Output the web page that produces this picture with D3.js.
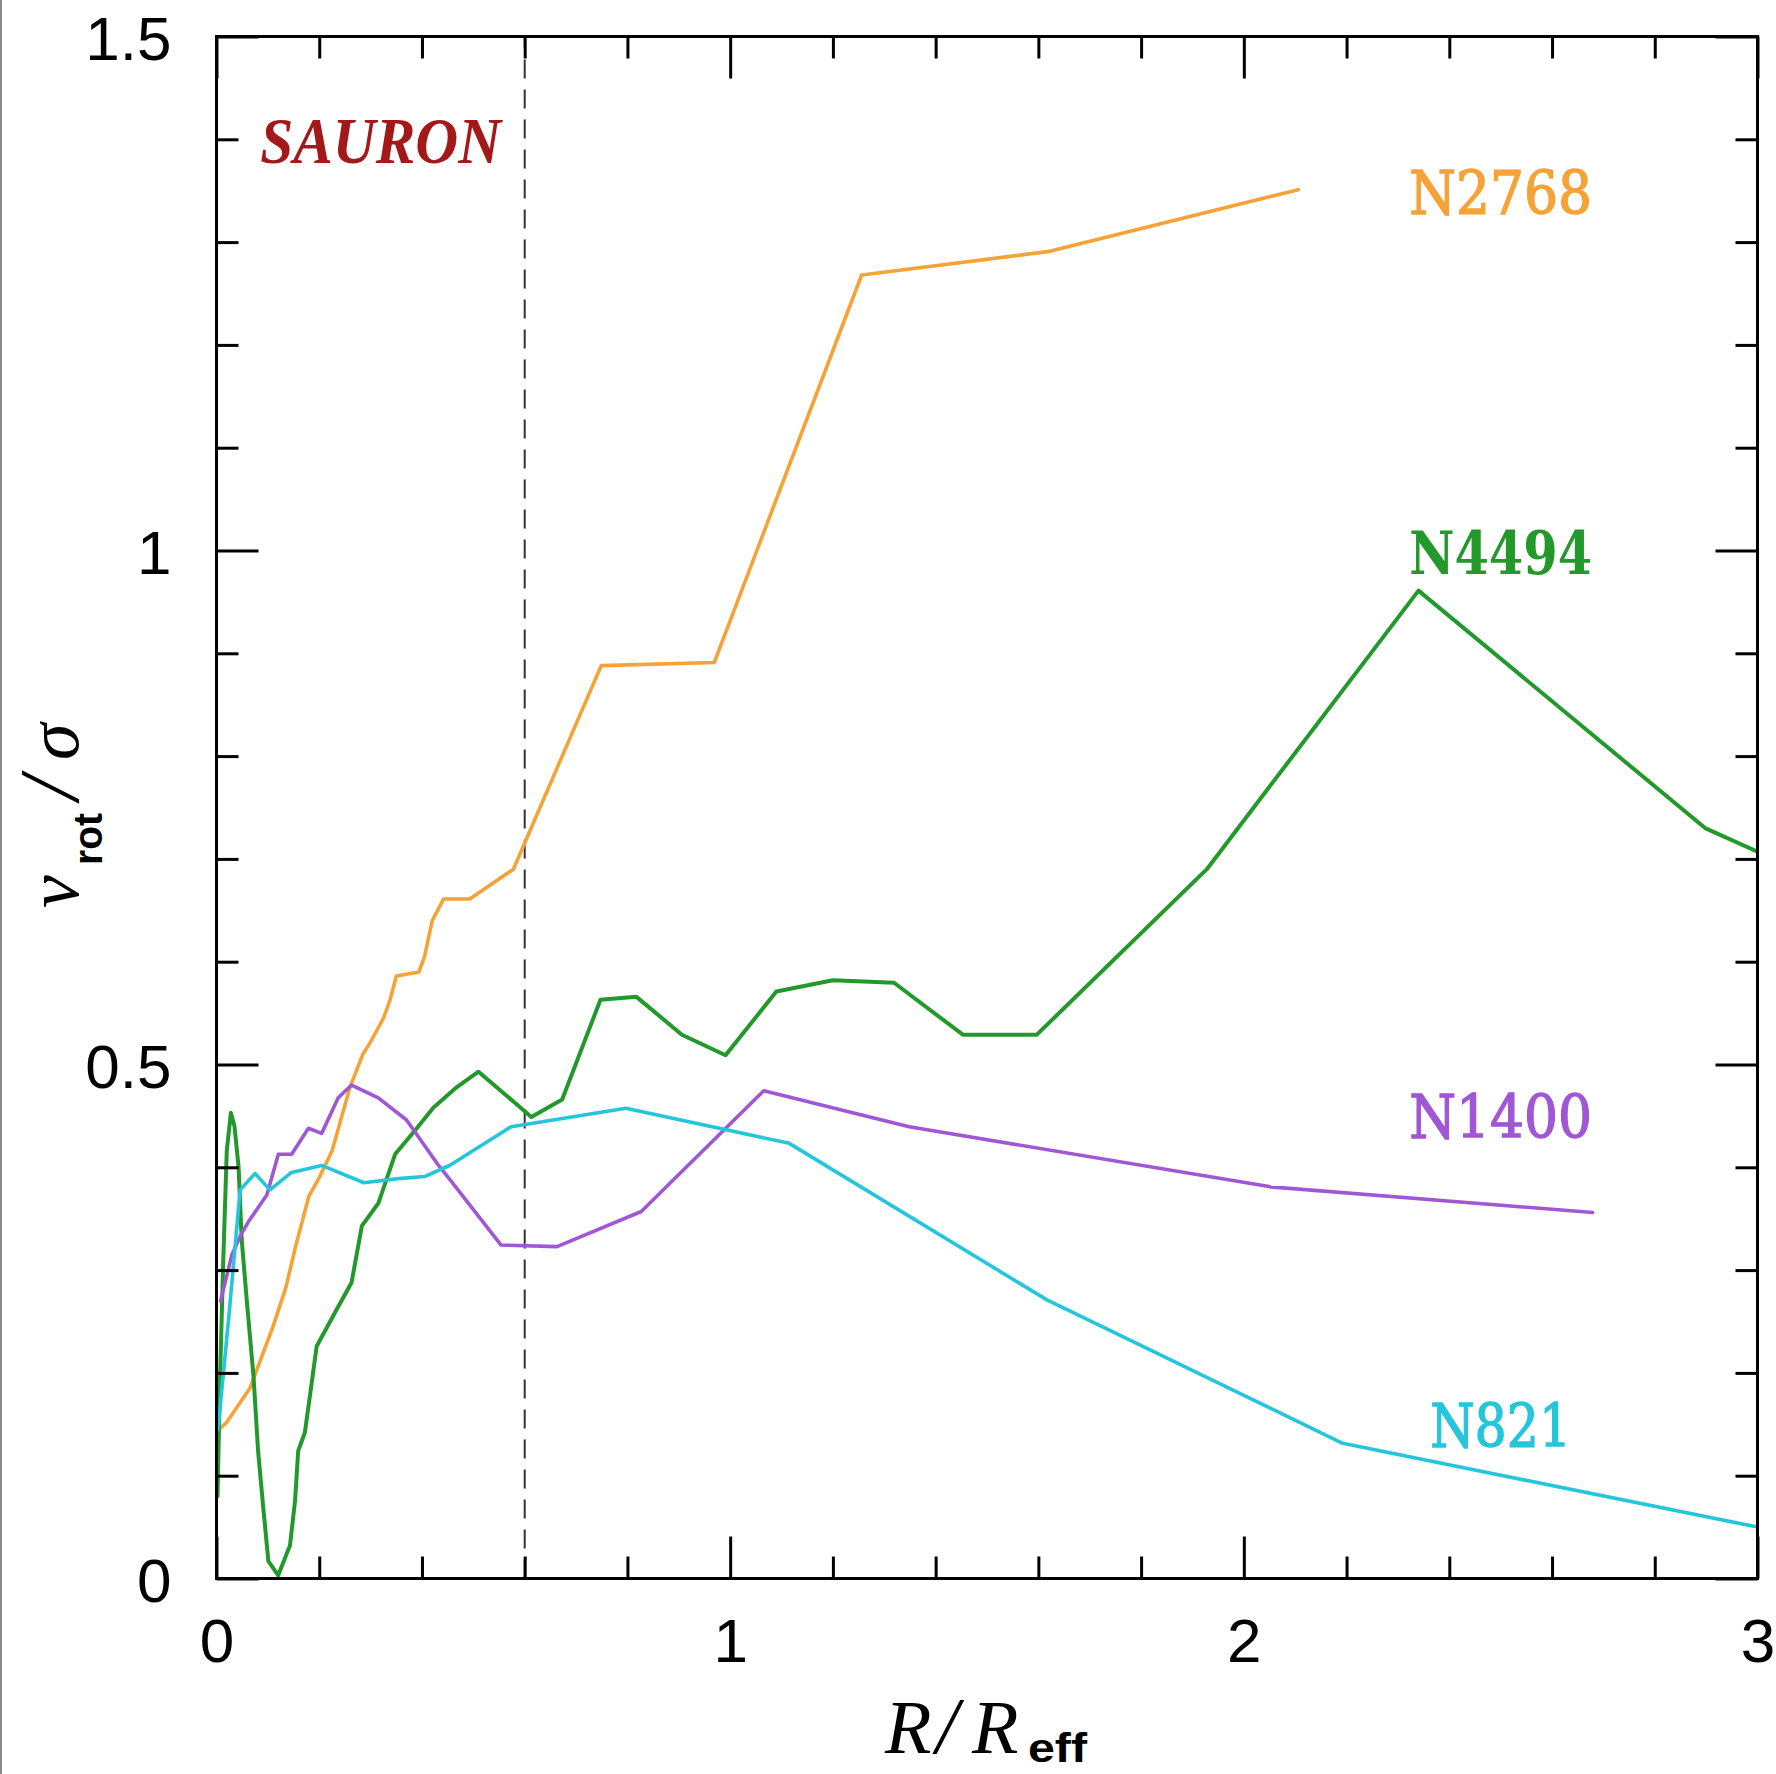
<!DOCTYPE html>
<html><head><meta charset="utf-8">
<script src="https://cdn.jsdelivr.net/npm/d3@7"></script>
<style>html,body{margin:0;padding:0;background:#fff;} svg{display:block;}</style>
</head><body>
<div id="chart"></div>
<script>
// ---- data ----
const seriesNames  = ["N2768", "N4494", "N1400", "N821"];
const seriesColors = ["#f5a236", "#23992b", "#a057d4", "#25c6dc"];

const n2768X = [0.005, 0.02, 0.065, 0.11, 0.135, 0.155, 0.18, 0.2, 0.225, 0.26, 0.285, 0.30, 0.325, 0.338, 0.35, 0.394, 0.405, 0.42, 0.442, 0.493, 0.578, 0.749, 0.969, 1.256, 1.622, 2.106];
const n2768Y = [0.145, 0.152, 0.185, 0.245, 0.283, 0.325, 0.372, 0.39, 0.416, 0.478, 0.51, 0.522, 0.545, 0.563, 0.586, 0.590, 0.605, 0.640, 0.661, 0.661, 0.690, 0.888, 0.891, 1.268, 1.291, 1.351];

const n4494X = [0.002, 0.007, 0.013, 0.02, 0.028, 0.035, 0.043, 0.049, 0.059, 0.072, 0.081, 0.091, 0.101, 0.12, 0.143, 0.153, 0.159, 0.172, 0.182, 0.195, 0.231, 0.263, 0.283, 0.315, 0.348, 0.39, 0.422, 0.468, 0.51, 0.613, 0.673, 0.7475, 0.817, 0.906, 0.991, 1.09, 1.2, 1.319, 1.453, 1.597, 1.928, 2.34, 2.898, 3.0];
const n4494Y = [0.08, 0.197, 0.307, 0.416, 0.453, 0.44, 0.40, 0.33, 0.27, 0.197, 0.124, 0.069, 0.017, 0.003, 0.032, 0.076, 0.124, 0.142, 0.178, 0.226, 0.259, 0.288, 0.343, 0.365, 0.413, 0.438, 0.458, 0.478, 0.493, 0.449, 0.466, 0.563, 0.566, 0.529, 0.509, 0.571, 0.582, 0.5795, 0.529, 0.529, 0.690, 0.961, 0.730, 0.707];

const n1400X = [0.008, 0.03, 0.046, 0.062, 0.098, 0.1204, 0.1463, 0.179, 0.2047, 0.237, 0.263, 0.315, 0.37, 0.432, 0.4545, 0.554, 0.663, 0.827, 1.0654, 1.3485, 2.052, 2.679];
const n1400Y = [0.27, 0.315, 0.333, 0.347, 0.373, 0.4127, 0.4127, 0.438, 0.433, 0.4676, 0.480, 0.4676, 0.446, 0.402, 0.388, 0.3244, 0.3228, 0.357, 0.4745, 0.4395, 0.381, 0.356];

const n821X = [0.003, 0.025, 0.046, 0.075, 0.104, 0.146, 0.2047, 0.287, 0.354, 0.405, 0.4545, 0.5737, 0.797, 1.115, 1.6167, 2.1925, 3.0];
const n821Y = [0.145, 0.26, 0.378, 0.394, 0.378, 0.395, 0.4018, 0.385, 0.389, 0.391, 0.402, 0.4395, 0.4574, 0.4233, 0.271, 0.1315, 0.050];

const xMajorTicks = [0, 1, 2, 3];
const xTickLabels = ["0", "1", "2", "3"];
const xMinorTicks = [0.2, 0.4, 0.6, 0.8, 1.2, 1.4, 1.6, 1.8, 2.2, 2.4, 2.6, 2.8];
const yMajorTicks = [0, 0.5, 1, 1.5];
const yTickLabels = ["0", "0.5", "1", "1.5"];
const yMinorTicks = [0.1, 0.2, 0.3, 0.4, 0.6, 0.7, 0.8, 0.9, 1.1, 1.2, 1.3, 1.4];

const sauronLimit = 0.6;            // dashed line position (R/Reff)
const labelXValue = 2.5;            // where the galaxy names sit
const labelYValues = [1.327, 0.977, 0.4285, 0.128];
const labelWidths = [183, 183, 183, 141];

// ---- drawing ----
const W = 1776, H = 1774;
const svg = d3.select("#chart").append("svg").attr("width", W).attr("height", H);
svg.append("rect").attr("width", W).attr("height", H).attr("fill", "#fff");
svg.append("line").attr("x1", 1).attr("x2", 1).attr("y1", 0).attr("y2", H)
   .attr("stroke", "#888").attr("stroke-width", 2);

const x = d3.scaleLinear().domain([0, 3]).range([216.5, 1757.5]);
const y = d3.scaleLinear().domain([0, 1.5]).range([1578.5, 36.5]);

svg.append("clipPath").attr("id", "plotclip").append("rect")
   .attr("x", x(0)).attr("y", y(1.5)).attr("width", x(3) - x(0)).attr("height", y(0) - y(1.5));

// dashed SAURON limit
svg.append("line").attr("x1", x(sauronLimit)).attr("x2", x(sauronLimit))
   .attr("y1", y(0)).attr("y2", y(1.5))
   .attr("stroke", "#333").attr("stroke-width", 2).attr("stroke-dasharray", "19,11");

// curves
const seriesX = [n2768X, n4494X, n1400X, n821X];
const seriesY = [n2768Y, n4494Y, n1400Y, n821Y];
const line = d3.line().x(d => x(d[0])).y(d => y(d[1]));
const plot = svg.append("g").attr("clip-path", "url(#plotclip)");
seriesNames.forEach((name, i) => {
  const pts = seriesX[i].map((v, j) => [v, seriesY[i][j]]);
  plot.append("path").datum(pts).attr("d", line)
      .attr("fill", "none").attr("stroke", seriesColors[i])
      .attr("stroke-width", name === "N4494" ? 4 : 3.6)
      .attr("stroke-linejoin", "round").attr("stroke-linecap", "round");
});

// axes ticks on all four sides
function tickGroup(gen, vals, size, tr) {
  const g = svg.append("g").attr("transform", tr)
    .call(gen.tickValues(vals).tickSize(size).tickSizeOuter(0).tickFormat(""));
  g.select(".domain").remove();
  g.selectAll("line").attr("stroke", "#000").attr("stroke-width", 3);
  return g;
}
tickGroup(d3.axisBottom(x), xMinorTicks, -22, `translate(0,${y(0)})`);
tickGroup(d3.axisTop(x), xMinorTicks, -22, `translate(0,${y(1.5)})`);
tickGroup(d3.axisTop(x), xMajorTicks, -42, `translate(0,${y(1.5)})`);
tickGroup(d3.axisLeft(y), yMinorTicks, -22, `translate(${x(0)},0)`);
tickGroup(d3.axisRight(y), yMinorTicks, -22, `translate(${x(3)},0)`);
tickGroup(d3.axisRight(y), yMajorTicks, -42, `translate(${x(3)},0)`);

const gB = svg.append("g").attr("transform", `translate(0,${y(0)})`)
  .call(d3.axisBottom(x).tickValues(xMajorTicks).tickSize(-42).tickSizeOuter(0)
        .tickFormat((d, i) => xTickLabels[i]));
gB.select(".domain").remove();
gB.selectAll("line").attr("stroke", "#000").attr("stroke-width", 3);
gB.selectAll("text").attr("y", 83.5).attr("dy", null)
  .attr("font-family", "Liberation Sans, Arial, sans-serif").attr("font-size", 62).attr("fill", "#000");

const gL = svg.append("g").attr("transform", `translate(${x(0)},0)`)
  .call(d3.axisLeft(y).tickValues(yMajorTicks).tickSize(-42).tickSizeOuter(0)
        .tickFormat((d, i) => yTickLabels[i]));
gL.select(".domain").remove();
gL.selectAll("line").attr("stroke", "#000").attr("stroke-width", 3);
gL.selectAll("text").attr("x", -45).attr("dy", null).attr("y", 23)
  .attr("font-family", "Liberation Sans, Arial, sans-serif").attr("font-size", 62).attr("fill", "#000");

// frame
svg.append("rect").attr("x", x(0)).attr("y", y(1.5))
   .attr("width", x(3) - x(0)).attr("height", y(0) - y(1.5))
   .attr("fill", "none").attr("stroke", "#000").attr("stroke-width", 3);

// series labels
seriesNames.forEach((name, i) => {
  svg.append("text").attr("x", x(labelXValue)).attr("y", y(labelYValues[i]))
     .attr("text-anchor", "middle")
     .attr("font-family", "DejaVu Serif, serif").attr("font-size", 60)
     .attr("font-weight", name === "N4494" ? "bold" : "normal")
     .attr("stroke", seriesColors[i]).attr("stroke-width", name === "N4494" ? 0 : 1.4)
     .attr("textLength", labelWidths[i]).attr("lengthAdjust", "spacingAndGlyphs")
     .attr("fill", seriesColors[i]).text(name);
});

// SAURON label
svg.append("text").attr("x", x(0.085)).attr("y", y(1.377))
   .attr("font-family", "Liberation Serif, serif").attr("font-style", "italic")
   .attr("font-weight", "bold")
   .attr("font-size", 66).attr("fill", "#a31818")
   .attr("textLength", 241).attr("lengthAdjust", "spacingAndGlyphs").text("SAURON");

// x-axis title  R/R_eff
const xt = svg.append("g");
xt.append("text").attr("x", 885).attr("y", 1753).attr("font-family", "Liberation Serif, serif")
  .attr("font-style", "italic").attr("font-size", 76).text("R");
xt.append("text").attr("x", 936).attr("y", 1753).attr("font-family", "Liberation Serif, serif")
  .attr("font-style", "italic").attr("font-size", 80).text("/");
xt.append("text").attr("x", 972).attr("y", 1753).attr("font-family", "Liberation Serif, serif")
  .attr("font-style", "italic").attr("font-size", 76).text("R");
xt.append("text").attr("x", 1028).attr("y", 1762).attr("font-family", "Liberation Sans, Arial, sans-serif")
  .attr("font-weight", "bold").attr("font-size", 40)
  .attr("textLength", 59).attr("lengthAdjust", "spacingAndGlyphs").text("eff");

// y-axis title  v_rot / sigma
const yt = svg.append("g").attr("transform", "translate(78,812) rotate(-90)");
yt.append("text").attr("x", -96).attr("y", 0).attr("font-family", "Liberation Serif, serif")
  .attr("font-style", "italic").attr("font-size", 74).text("v");
yt.append("text").attr("x", -53).attr("y", 24).attr("font-family", "Liberation Sans, Arial, sans-serif")
  .attr("font-weight", "bold").attr("font-size", 40)
  .attr("textLength", 52).attr("lengthAdjust", "spacingAndGlyphs").text("rot");
yt.append("text").attr("x", 12).attr("y", 0).attr("font-family", "Liberation Serif, serif")
  .attr("font-style", "italic").attr("font-size", 84).text("/");
yt.append("text").attr("x", 52).attr("y", 0).attr("font-family", "Liberation Serif, serif")
  .attr("font-style", "italic").attr("font-size", 74).text("σ");
</script>
</body></html>
